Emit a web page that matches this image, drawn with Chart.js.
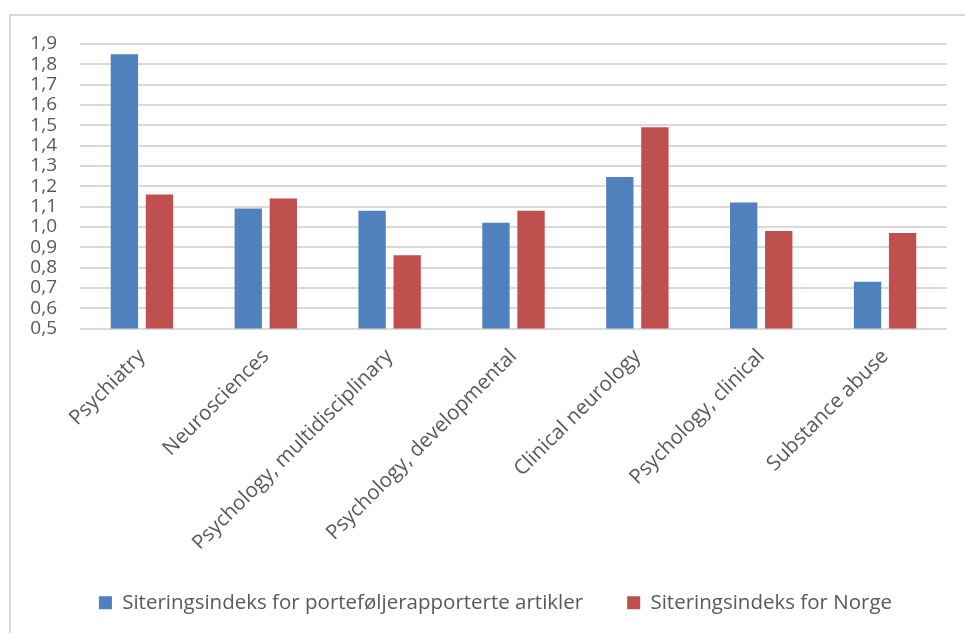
<!DOCTYPE html>
<html>
<head>
<meta charset="utf-8">
<script src="https://cdn.jsdelivr.net/npm/chart.js@4.4.1/dist/chart.umd.min.js"></script>
<style>
  body { margin: 0; background: #fff; overflow: hidden; }
  #frame {
    position: absolute; left: 9px; top: 14px; width: 1000px; height: 700px;
    border-left: 2px solid #d9d9d9; border-top: 2px solid #d9d9d9;
  }
  #wrap { position: absolute; left: 0; top: 0; width: 965px; height: 633px; }
</style>
</head>
<body>
<div id="frame"></div>
<div id="wrap"><canvas id="chart" width="965" height="633"></canvas></div>
<script>
const categories = [
    'Psychiatry',
    'Neurosciences',
    'Psychology, multidisciplinary',
    'Psychology, developmental',
    'Clinical neurology',
    'Psychology, clinical',
    'Substance abuse'
];
const portfolioIndex = [1.85, 1.09, 1.08, 1.02, 1.245, 1.12, 0.73];
const norwayIndex = [1.16, 1.14, 0.86, 1.08, 1.49, 0.98, 0.97];
const seriesNames = ['Siteringsindeks for porteføljerapporterte artikler', 'Siteringsindeks for Norge'];

const textColor = '#595959';
const gridColor = '#d9d9d9';

// nudge the legend a bit to the right so it sits under the plot, not the canvas
const legendShift = {
    id: 'legendShift',
    afterLayout(chart) {
        chart.legend.left += 12;
        chart.legend.right += 12;
    }
};

const ctx = document.getElementById('chart').getContext('2d');
new Chart(ctx, {
    type: 'bar',
    data: {
        labels: categories,
        datasets: [{
            label: seriesNames[0],
            data: portfolioIndex,
            backgroundColor: '#4f81bd',
            categoryPercentage: 0.566,
            barPercentage: 0.78
        }, {
            label: seriesNames[1],
            data: norwayIndex,
            backgroundColor: '#c0504d',
            categoryPercentage: 0.566,
            barPercentage: 0.78
        }]
    },
    plugins: [legendShift],
    options: {
        responsive: false,
        animation: false,
        layout: {
            padding: { left: 20, right: 18, top: 44, bottom: 10 }
        },
        plugins: {
            tooltip: { enabled: false },
            legend: {
                position: 'bottom',
                labels: {
                    color: textColor,
                    font: { family: 'Open Sans', size: 20.5 },
                    boxWidth: 13,
                    boxHeight: 13,
                    padding: 44
                }
            }
        },
        scales: {
            x: {
                grid: { display: false },
                border: { display: false },
                ticks: {
                    color: textColor,
                    font: { family: 'Open Sans', size: 20.5 },
                    minRotation: 45,
                    maxRotation: 45,
                    padding: 8
                },
                afterFit: (scale) => { scale.height = 220; }
            },
            y: {
                min: 0.5,
                max: 1.9,
                grid: { color: gridColor, lineWidth: 2, drawTicks: false },
                border: { display: false },
                ticks: {
                    stepSize: 0.1,
                    autoSkip: false,
                    color: textColor,
                    font: { family: 'Open Sans', size: 19 },
                    padding: 23,
                    callback: (value) => value.toFixed(1).replace('.', ',')
                },
                afterFit: (scale) => { scale.width = 60; }
            }
        }
    }
});
</script>
</body>
</html>
